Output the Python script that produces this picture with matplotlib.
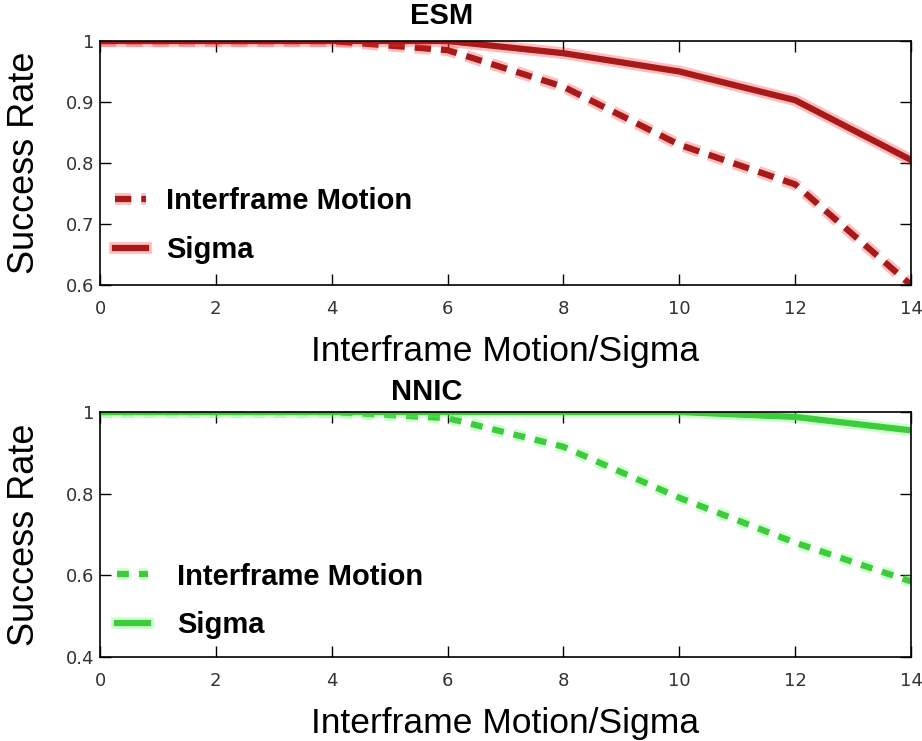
import matplotlib
matplotlib.use("Agg")
import matplotlib.pyplot as plt
import matplotlib.patheffects as pe
from matplotlib.ticker import FuncFormatter

plt.rcParams['font.family'] = ['Liberation Sans', 'DejaVu Sans']

x_vals = [0, 2, 4, 6, 8, 10, 12, 14]
esm_interframe = [1.0, 1.0, 1.0, 0.985, 0.925, 0.83, 0.765, 0.60]
esm_sigma = [1.0, 1.0, 1.0, 1.0, 0.98, 0.95, 0.903, 0.805]
nnic_interframe = [1.0, 1.0, 1.0, 0.985, 0.915, 0.79, 0.68, 0.585]
nnic_sigma = [1.0, 1.0, 1.0, 1.0, 1.0, 1.0, 0.988, 0.955]

titles = ["ESM", "NNIC"]
series_labels = ["Interframe Motion", "Sigma"]
xlabel = "Interframe Motion/Sigma"
ylabel = "Success Rate"
x_ticks = [0, 2, 4, 6, 8, 10, 12, 14]
esm_yticks = [0.6, 0.7, 0.8, 0.9, 1.0]
nnic_yticks = [0.4, 0.6, 0.8, 1.0]

fig = plt.figure(figsize=(9.22, 7.41), dpi=100)
W, H = 922, 741

def ax_rect(l, t, r, b):
    return [l / W, 1 - b / H, (r - l) / W, (b - t) / H]

ax1 = fig.add_axes(ax_rect(100, 41, 911, 285))
ax2 = fig.add_axes(ax_rect(100, 412, 911, 657))

fmt = FuncFormatter(lambda v, p: ('%g' % round(v, 3)))

def draw(ax, inter, sigma, yticks, ylim, core, glow, dash, title, tx, ty, tsize,
         leg_x, leg_y, leg_pad):
    lw = 4.5
    effects = [pe.Stroke(linewidth=lw + 4, foreground=glow, alpha=0.3), pe.Normal()]
    ax.plot(x_vals, inter, color=core, lw=lw, dashes=dash,
            path_effects=effects, label=series_labels[0])
    ax.plot(x_vals, sigma, color=core, lw=lw,
            path_effects=effects, label=series_labels[1])
    ax.set_xlim(0, 14)
    ax.set_ylim(*ylim)
    ax.set_xticks(x_ticks)
    ax.set_yticks(yticks)
    ax.xaxis.set_major_formatter(fmt)
    ax.yaxis.set_major_formatter(fmt)
    ax.tick_params(direction='in', top=True, right=True, length=8, width=1,
                   labelsize=13, labelcolor='#333333')
    ax.tick_params(axis='x', pad=11)
    ax.tick_params(axis='y', pad=4)
    for lab in ax.get_xticklabels() + ax.get_yticklabels():
        lab.set_family('DejaVu Sans')
    for s in ax.spines.values():
        s.set_linewidth(1.2)
        s.set_color('black')
    ax.set_xlabel(xlabel, fontsize=25.5, labelpad=12)
    ax.set_ylabel(ylabel, fontsize=26, labelpad=17)
    fig.text(tx / W, 1 - ty / H, title, fontsize=tsize, fontweight='bold',
             ha='center', va='center')
    ax.legend(loc='upper left', bbox_to_anchor=(leg_x, leg_y), frameon=False,
              prop={'weight': 'bold', 'size': 21},
              handlelength=1.05, handletextpad=leg_pad, labelspacing=0.7,
              borderaxespad=0, borderpad=0)

draw(ax1, esm_interframe, esm_sigma, esm_yticks, (0.6, 1.0), '#a81a1a', '#ff2a2a',
     (2.6, 1.6), titles[0], 442, 16, 21, 0.0185, 0.40, 0.7)
draw(ax2, nnic_interframe, nnic_sigma, nnic_yticks, (0.4, 1.0), '#3ccc3c', '#66ff66',
     (1.9, 1.6), titles[1], 427, 392, 21, 0.021, 0.385, 1.0)

fig.savefig("out.png", dpi=100)
